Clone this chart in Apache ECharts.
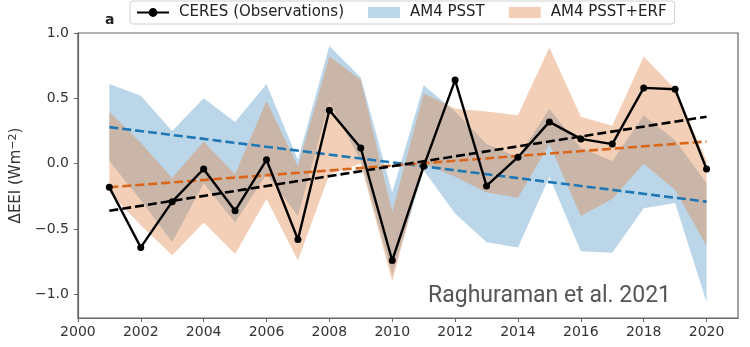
<!DOCTYPE html>
<html>
<head>
<meta charset="utf-8">
<script src="https://cdn.jsdelivr.net/npm/echarts@6/dist/echarts.min.js"></script>
<style>html,body{margin:0;padding:0;background:#fff}#c{width:750px;height:347px}</style>
</head>
<body>
<div id="c"></div>
<script>
const years = [2001,2002,2003,2004,2005,2006,2007,2008,2009,2010,2011,2012,2013,2014,2015,2016,2017,2018,2019,2020];
const ceres = [-0.18,-0.64,-0.29,-0.04,-0.36,0.03,-0.58,0.41,0.12,-0.74,-0.02,0.64,-0.17,0.05,0.32,0.19,0.15,0.58,0.57,-0.04];
const psstUpper = [0.61,0.52,0.25,0.50,0.32,0.61,0.03,0.90,0.66,-0.22,0.60,0.40,0.15,0.05,0.42,0.12,0.02,0.37,0.18,-0.15];
const psstLower = [0.02,-0.28,-0.60,-0.15,-0.45,-0.08,-0.40,0.47,0.02,-0.85,-0.05,-0.38,-0.60,-0.64,-0.10,-0.67,-0.68,-0.34,-0.30,-1.06];
const erfUpper = [0.40,0.16,-0.11,0.17,-0.08,0.48,-0.02,0.82,0.64,-0.37,0.54,0.42,0.40,0.37,0.89,0.36,0.29,0.82,0.57,0.02];
const erfLower = [-0.22,-0.47,-0.70,-0.45,-0.69,-0.27,-0.74,-0.08,0.00,-0.90,0.00,-0.10,-0.22,-0.26,0.15,-0.40,-0.27,0.00,-0.20,-0.63];
const trendYears = [2001, 2020];
const ceresTrend = [-0.36, 0.36];
const psstTrend = [0.28, -0.29];
const erfTrend = [-0.18, 0.17];
const xTicks = [2000,2002,2004,2006,2008,2010,2012,2014,2016,2018,2020];
const yTicks = [-1.0,-0.5,0.0,0.5,1.0];

const BLUE_FILL = 'rgba(31,119,180,0.3)';
const ORANGE_FILL = 'rgba(225,135,75,0.4)';

function band(upper, lower, fill) {
  return function (params, api) {
    const pts = [];
    for (let i = 0; i < years.length; i++) pts.push(api.coord([years[i], upper[i]]));
    for (let i = years.length - 1; i >= 0; i--) pts.push(api.coord([years[i], lower[i]]));
    return {type: 'polygon', shape: {points: pts}, style: {fill: fill}};
  };
}
const pair = (xs, ys) => xs.map((x, i) => [x, ys[i]]);
const fmtNum = v => { const s = Math.abs(v).toFixed(1); return v < 0 ? '\u2212' + s : s; };

const chart = echarts.init(document.getElementById('c'));
chart.setOption({
  animation: false,
  backgroundColor: '#fff',
  grid: {left: 76, right: 12, top: 33, bottom: 29, show: true, borderColor: '#666', borderWidth: 1.2, backgroundColor: 'transparent'},
  legend: {
    left: 130, top: 1,
    padding: [4, 8, 4, 6],
    itemGap: 24,
    itemWidth: 32, itemHeight: 11,
    borderColor: '#d0d0d0', borderWidth: 1, borderRadius: 3,
    backgroundColor: '#fff',
    textStyle: {fontFamily: 'DejaVu Sans', fontSize: 15, color: '#222', padding: [0, 0, 0, 5]},
    data: [
      {name: 'CERES (Observations)'},
      {name: 'AM4 PSST', icon: 'rect', itemStyle: {color: '#bcd6e9'}},
      {name: 'AM4 PSST+ERF', icon: 'rect', itemStyle: {color: '#f3cfb7'}}
    ]
  },
  xAxis: {
    type: 'value', min: 2000, max: 2021,
    axisLine: {show: true, onZero: false, lineStyle: {color: '#666', width: 1.2}},
    axisTick: {show: true, length: 4, lineStyle: {color: '#666'}, customValues: xTicks},
    axisLabel: {customValues: xTicks, formatter: v => String(v), fontFamily: 'DejaVu Sans', fontSize: 14, color: '#333', margin: 7},
    splitLine: {show: false}
  },
  yAxis: {
    type: 'value', min: -1.18, max: 1.0,
    name: '{n|\u0394EEI (Wm}{s|\u22122}{n|)}', nameLocation: 'middle', nameGap: 46,
    nameTextStyle: {
      fontFamily: 'DejaVu Sans', fontSize: 15, color: '#333',
      rich: {
        n: {fontFamily: 'DejaVu Sans', fontSize: 15, color: '#333'},
        s: {fontFamily: 'DejaVu Sans', fontSize: 11, color: '#333', verticalAlign: 'top', padding: [0, 0, 6, 0]}
      }
    },
    axisLine: {show: true, onZero: false, lineStyle: {color: '#666', width: 1.2}},
    axisTick: {show: true, length: 4, lineStyle: {color: '#666'}, customValues: yTicks},
    axisLabel: {customValues: yTicks, formatter: fmtNum, fontFamily: 'DejaVu Sans', fontSize: 14, color: '#333', margin: 9},
    splitLine: {show: false}
  },
  graphic: [
    {type: 'text', left: 105, top: 13, style: {text: 'a', font: 'bold 14px DejaVu Sans', fill: '#222'}},
    {type: 'text', right: 79, top: 285, style: {text: 'Raghuraman et al. 2021', font: '23px Roboto', fill: '#555'}}
  ],
  series: [
    {name: 'AM4 PSST', type: 'custom', renderItem: band(psstUpper, psstLower, BLUE_FILL), data: [[2001, 0]], itemStyle: {color: '#bcd6e9'}, silent: true, z: 1},
    {name: 'AM4 PSST+ERF', type: 'custom', renderItem: band(erfUpper, erfLower, ORANGE_FILL), data: [[2001, 0]], itemStyle: {color: '#f3cfb7'}, silent: true, z: 2},
    {name: 'psstTrend', type: 'line', data: pair(trendYears, psstTrend), symbol: 'none', lineStyle: {color: '#1f77b4', width: 2.6, type: [9, 4]}, z: 3},
    {name: 'erfTrend', type: 'line', data: pair(trendYears, erfTrend), symbol: 'none', lineStyle: {color: '#d8661c', width: 2.6, type: [9, 4]}, z: 3},
    {name: 'ceresTrend', type: 'line', data: pair(trendYears, ceresTrend), symbol: 'none', lineStyle: {color: '#000', width: 2.6, type: [9, 4]}, z: 3},
    {name: 'CERES (Observations)', type: 'line', data: pair(years, ceres), symbol: 'circle', symbolSize: 7,
      itemStyle: {color: '#000'}, lineStyle: {color: '#000', width: 2.4}, z: 4}
  ]
});
</script>
</body>
</html>
